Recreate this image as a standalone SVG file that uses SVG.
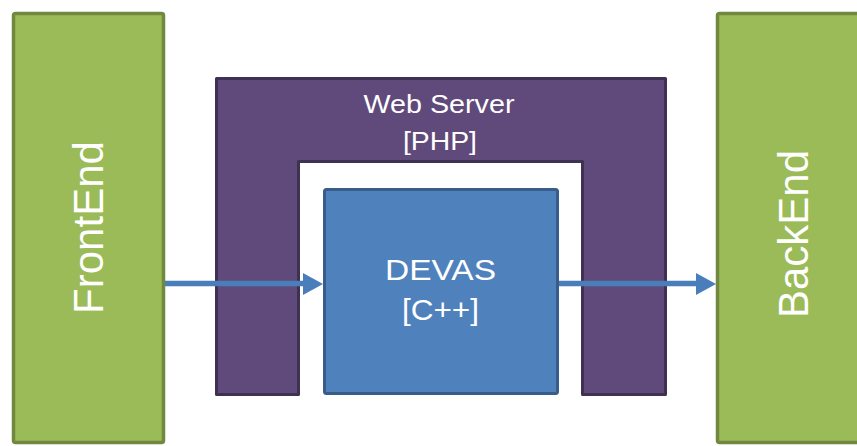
<svg xmlns="http://www.w3.org/2000/svg" width="857" height="446" viewBox="0 0 857 446">
  <style>
    .tier { fill: #9BBB59; stroke: #71893F; stroke-width: 3.5; }
    .server { fill: #604A7B; stroke: #3F3151; stroke-width: 3; stroke-linejoin: round; }
    .core { fill: #4F81BD; stroke: #385D8A; stroke-width: 3; }
    .label { fill: #FFFFFF; font-family: "Liberation Sans", Arial, sans-serif; text-anchor: middle; }
    .flow { stroke: #4A7EBB; stroke-width: 5.5; fill: none; }
    .head { fill: #4A7EBB; }
  </style>

  <g id="frontend">
    <rect class="tier" x="13.5" y="13.5" width="150" height="429" rx="2"/>
    <text class="label" font-size="42" transform="translate(102.5 227.5) rotate(-90)" x="0" y="0">FrontEnd</text>
  </g>

  <g id="webserver">
    <path class="server" d="M216.5 78.5 H665.5 V394.5 H582.5 V161.5 H298.5 V394.5 H216.5 Z"/>
    <text class="label" font-size="26.5" x="439" y="113" textLength="151" lengthAdjust="spacingAndGlyphs">Web Server</text>
    <text class="label" font-size="26.5" x="440" y="150" textLength="74" lengthAdjust="spacingAndGlyphs">[PHP]</text>
  </g>

  <g id="devas">
    <rect class="core" x="324.5" y="189.5" width="233" height="204" rx="2"/>
    <text class="label" font-size="30" x="440.5" y="280" textLength="111" lengthAdjust="spacingAndGlyphs">DEVAS</text>
    <text class="label" font-size="30" x="440.5" y="320" textLength="77" lengthAdjust="spacingAndGlyphs">[C++]</text>
  </g>

  <g id="backend">
    <rect class="tier" x="717.5" y="13.5" width="150" height="429" rx="2"/>
    <text class="label" font-size="42" transform="translate(807.5 234) rotate(-90)" x="0" y="0">BackEnd</text>
  </g>

  <g id="connectors">
    <line class="flow" x1="165" y1="283.5" x2="305" y2="283.5"/>
    <polygon class="head" points="303,273 323,284 303,295"/>
    <line class="flow" x1="559" y1="283.5" x2="698" y2="283.5"/>
    <polygon class="head" points="696,273 716,284 696,295"/>
  </g>
</svg>
